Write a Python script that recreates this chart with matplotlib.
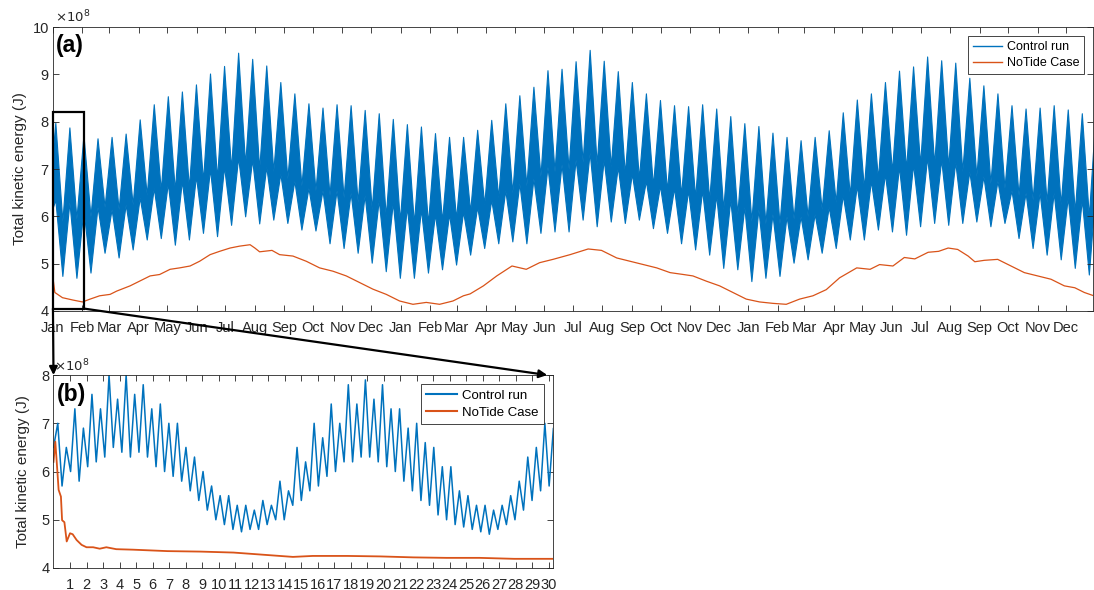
import numpy as np
import matplotlib
matplotlib.use('Agg')
import matplotlib.pyplot as plt
from matplotlib.patches import Rectangle, ConnectionPatch
from matplotlib.lines import Line2D

plt.rcParams['font.family'] = ['Liberation Sans', 'DejaVu Sans']

# ---- data (kinetic energy in units of 1e8 J) ----
month_names = ['Jan', 'Feb', 'Mar', 'Apr', 'May', 'Jun',
               'Jul', 'Aug', 'Sep', 'Oct', 'Nov', 'Dec']
month_start = [0, 31, 59, 90, 120, 151, 181, 212, 243, 273, 304, 334]
n_years = 3

# panel (a) control run: one entry per spring-neap cycle
spring_t0 = 2.5        # day of first spring tide
spring_period = 14.765 # days
spring_peak = [7.98, 7.88, 7.72, 7.65, 7.68, 7.75, 8.05, 8.37, 8.54, 8.64,
               8.79, 9.02, 9.18, 9.46, 9.33, 9.19, 8.84, 8.60, 8.39, 8.30,
               8.37, 8.35, 8.25, 8.18, 8.06, 7.95, 7.90, 7.76, 7.68, 7.68,
               7.83, 8.04, 8.39, 8.56, 8.74, 9.09, 9.12, 9.28, 9.52, 9.29,
               9.07, 8.84, 8.60, 8.46, 8.35, 8.33, 8.37, 8.28, 8.12, 7.97,
               7.91, 7.77, 7.68, 7.61, 7.68, 7.82, 8.20, 8.47, 8.60, 8.84,
               9.08, 9.17, 9.38, 9.30, 9.25, 8.93, 8.77, 8.60, 8.35, 8.28,
               8.30, 8.35, 8.26, 8.18]
spring_low = [6.35, 6.30, 6.15, 6.20, 6.15, 6.25, 6.40, 6.60, 6.70, 6.75,
              6.85, 7.00, 7.05, 7.25, 7.20, 7.05, 6.90, 6.75, 6.60, 6.55,
              6.55, 6.50, 6.45, 6.35, 6.30, 6.20, 6.15, 6.05, 6.05, 6.10,
              6.20, 6.35, 6.55, 6.70, 6.80, 7.05, 7.10, 7.20, 7.35, 7.20,
              7.05, 6.90, 6.75, 6.65, 6.60, 6.55, 6.55, 6.45, 6.35, 6.20,
              6.15, 6.05, 6.00, 6.00, 6.05, 6.20, 6.45, 6.65, 6.75, 6.90,
              7.05, 7.10, 7.25, 7.20, 7.15, 6.95, 6.85, 6.75, 6.55, 6.50,
              6.50, 6.50, 6.40, 6.35]
neap_high = [5.90, 5.95, 6.00, 6.20, 6.15, 6.25, 6.45, 6.55, 6.55, 6.60,
             6.75, 6.80, 7.00, 7.10, 7.00, 6.95, 6.80, 6.65, 6.55, 6.45,
             6.40, 6.30, 6.15, 6.00, 5.90, 5.85, 5.85, 5.90, 5.95, 6.10,
             6.25, 6.40, 6.50, 6.65, 6.85, 6.95, 7.00, 7.15, 7.10, 7.05,
             6.90, 6.80, 6.65, 6.55, 6.45, 6.40, 6.35, 6.15, 6.05, 5.90,
             5.85, 5.85, 5.95, 6.00, 6.15, 6.30, 6.45, 6.60, 6.80, 6.95,
             7.00, 7.10, 7.10, 7.05, 6.95, 6.85, 6.70, 6.60, 6.45, 6.35,
             6.30, 6.25, 6.10, 6.00]
neap_low = [4.74, 4.70, 4.81, 5.23, 5.13, 5.30, 5.51, 5.54, 5.40, 5.51,
            5.65, 5.58, 5.82, 6.00, 5.85, 5.93, 5.86, 5.72, 5.70, 5.43,
            5.33, 5.23, 5.02, 4.84, 4.70, 4.70, 4.81, 4.88, 4.98, 5.19,
            5.33, 5.43, 5.47, 5.43, 5.65, 5.68, 5.68, 5.93, 5.79, 5.89,
            5.86, 5.93, 5.75, 5.65, 5.43, 5.30, 5.19, 4.91, 4.88, 4.63,
            4.70, 4.74, 5.02, 5.09, 5.23, 5.33, 5.51, 5.51, 5.72, 5.68,
            5.61, 5.79, 5.86, 5.82, 5.86, 5.89, 5.79, 5.86, 5.54, 5.33,
            5.19, 5.09, 4.91, 4.77]
# neap before the first spring and spring after the last neap (partly off-axis)
pre_neap = (5.90, 6.30)   # (low, high)
post_spring = (6.70, 8.30)  # (low, high)

# panel (a) NoTide case
nt_day = [0, 2, 10, 21, 31, 39, 49, 60, 67, 81, 91, 102, 112, 123, 133, 144,
          154, 165, 175, 186, 196, 207, 212, 217, 230, 238, 252, 266, 280,
          294, 308, 322, 336, 350, 364, 378, 392, 406, 420, 431, 438, 452,
          466, 482, 497, 511, 525, 543, 562, 576, 592, 606, 620, 634, 648,
          662, 672, 686, 700, 714, 728, 742, 756, 770, 784, 798, 812, 826,
          844, 858, 868, 882, 894, 905, 919, 930, 940, 950, 961, 968, 978,
          992, 1006, 1020, 1034, 1048, 1062, 1073, 1083, 1093]
nt_val = [4.70, 4.39, 4.28, 4.23, 4.19, 4.25, 4.32, 4.35, 4.42, 4.53, 4.63,
          4.74, 4.77, 4.88, 4.91, 4.95, 5.05, 5.19, 5.26, 5.33, 5.37, 5.40,
          5.33, 5.25, 5.28, 5.19, 5.16, 5.05, 4.91, 4.84, 4.74, 4.60, 4.46,
          4.35, 4.21, 4.14, 4.18, 4.14, 4.21, 4.32, 4.36, 4.53, 4.74, 4.95,
          4.88, 5.02, 5.09, 5.19, 5.31, 5.28, 5.12, 5.05, 4.98, 4.91, 4.81,
          4.77, 4.74, 4.63, 4.53, 4.39, 4.25, 4.19, 4.16, 4.14, 4.25, 4.32,
          4.45, 4.70, 4.91, 4.88, 4.98, 4.95, 5.13, 5.10, 5.24, 5.26, 5.33,
          5.30, 5.16, 5.04, 5.07, 5.09, 4.95, 4.81, 4.74, 4.67, 4.53, 4.49,
          4.39, 4.32]

# panel (b): first month, semi-diurnal highs and lows
m2_half = 0.25875      # half of the M2 period in days
b_t0 = 0.0
ctrl_b = [6.5, 7.0, 5.7, 6.5, 6.0, 7.3, 5.8, 6.9, 6.1, 7.6, 6.2, 7.3, 6.3, 8.0,
          6.5, 7.5, 6.4, 8.0, 6.3, 7.6, 6.4, 7.8, 6.3, 7.3, 6.1, 7.4, 6.0, 7.0,
          5.9, 7.0, 5.8, 6.5, 5.6, 6.3, 5.4, 6.0, 5.2, 5.7, 5.0, 5.5, 4.9, 5.5,
          4.8, 5.3, 4.75, 5.3, 4.8, 5.2, 4.8, 5.4, 4.9, 5.3, 5.0, 5.8, 5.0, 5.6,
          5.3, 6.5, 5.4, 6.2, 5.6, 7.0, 5.7, 6.7, 5.9, 7.4, 6.0, 7.0, 6.2, 7.8,
          6.2, 7.4, 6.3, 7.9, 6.3, 7.5, 6.2, 7.8, 6.1, 7.3, 6.0, 7.3, 5.8, 6.9,
          5.6, 7.0, 5.4, 6.6, 5.3, 6.5, 5.1, 6.1, 5.0, 6.1, 4.9, 5.6, 4.85, 5.5,
          4.8, 5.3, 4.75, 5.3, 4.7, 5.2, 4.8, 5.3, 4.9, 5.5, 5.0, 5.8, 5.2, 6.3,
          5.4, 6.5, 5.6, 7.0, 5.7, 6.9, 6.0, 7.0]
nt_b_day = [0, 0.11, 0.23, 0.31, 0.45, 0.52, 0.66, 0.80, 1.0, 1.16, 1.4, 1.7,
            2.0, 2.4, 2.8, 3.2, 3.8, 4.8, 6.9, 8.9, 10.9, 12.9, 14.5, 15.7,
            17.8, 19.8, 21.8, 23.8, 25.8, 27.9, 30.3]
nt_b_val = [6.20, 6.62, 6.03, 5.62, 5.48, 4.99, 4.95, 4.55, 4.72, 4.70, 4.58,
            4.48, 4.43, 4.43, 4.40, 4.43, 4.39, 4.38, 4.35, 4.34, 4.32, 4.27,
            4.23, 4.25, 4.25, 4.24, 4.22, 4.21, 4.21, 4.19, 4.19]

# zoom window marked on panel (a)
zoom_days = 32.5
zoom_lo, zoom_hi = 4.05, 8.2

blue = '#0072BD'
orange = '#D95319'
axcol = '#262626'

# ---- build panel (a) control envelopes ----
spring_t = spring_t0 + spring_period * np.arange(len(spring_peak))
half = spring_period / 2
ta = np.empty(2 * len(spring_t))
ta[0::2] = spring_t
ta[1::2] = spring_t + half
up = np.empty_like(ta)
up[0::2] = spring_peak
up[1::2] = neap_high
lo = np.empty_like(ta)
lo[0::2] = spring_low
lo[1::2] = neap_low
ta = np.concatenate([[spring_t[0] - half], ta, [spring_t[-1] + 2 * half]])
up = np.concatenate([[pre_neap[1]], up, [post_spring[1]]])
lo = np.concatenate([[pre_neap[0]], lo, [post_spring[0]]])

fig = plt.figure(figsize=(10.94, 5.90), dpi=100)
ax_a = fig.add_axes([0.0484, 0.473, 0.9506, 0.481])
ax_b = fig.add_axes([0.0489, 0.0373, 0.4566, 0.327])


def style(ax):
    for s in ax.spines.values():
        s.set_color(axcol)
        s.set_linewidth(0.6)
    ax.tick_params(direction='in', top=True, right=True, length=4,
                   width=0.6, colors=axcol, labelsize=10.5, pad=3)
    ax.tick_params(axis='x', pad=7)


# panel (a)
ax_a.fill_between(ta, lo, up, color=blue, lw=0.8, edgecolor=blue)
ax_a.plot(nt_day, nt_val, color=orange, lw=0.9)
ax_a.set_xlim(0, 1092)
ax_a.set_ylim(4, 10)
ticks = [y * 365 + m for y in range(n_years) for m in month_start]
ax_a.set_xticks(ticks)
ax_a.set_xticklabels(month_names * n_years)
ax_a.set_yticks(range(4, 11))
style(ax_a)
ax_a.set_ylabel('Total kinetic energy (J)', fontsize=11, color=axcol, labelpad=4)
ax_a.text(0.002, 1.005, r'$\times10^{8}$', transform=ax_a.transAxes,
          fontsize=9.5, color=axcol, va='bottom', ha='left')
ax_a.text(0.003, 0.975, '(a)', transform=ax_a.transAxes, fontsize=16.5,
          fontweight='bold', va='top', ha='left')
ax_a.add_patch(Rectangle((0, zoom_lo), zoom_days, zoom_hi - zoom_lo,
                         fill=False, ec='k', lw=1.6, zorder=5, clip_on=False))
handles = [Line2D([], [], color=blue, lw=1), Line2D([], [], color=orange, lw=1)]
leg = ax_a.legend(handles, ['Control run', 'NoTide Case'], loc='upper right',
                  fontsize=9, fancybox=False, framealpha=1, handlelength=2.3,
                  borderpad=0.4, labelspacing=0.35, handletextpad=0.4,
                  borderaxespad=0.7)
leg.get_frame().set_edgecolor(axcol)
leg.get_frame().set_linewidth(0.6)

# panel (b)
tb = b_t0 + m2_half * np.arange(len(ctrl_b))
ax_b.plot(tb, ctrl_b, color=blue, lw=1.1)
ax_b.plot(nt_b_day, nt_b_val, color=orange, lw=1.3)
ax_b.set_xlim(0, 30.25)
ax_b.set_ylim(4, 8)
ax_b.set_xticks(range(1, 31))
ax_b.set_yticks(range(4, 9))
style(ax_b)
ax_b.set_ylabel('Total kinetic energy (J)', fontsize=11, color=axcol, labelpad=8)
ax_b.text(0.002, 1.005, r'$\times10^{8}$', transform=ax_b.transAxes,
          fontsize=9.5, color=axcol, va='bottom', ha='left')
ax_b.text(0.006, 0.96, '(b)', transform=ax_b.transAxes, fontsize=16.5,
          fontweight='bold', va='top', ha='left')
handles_b = [Line2D([], [], color=blue, lw=1.5), Line2D([], [], color=orange, lw=1.5)]
leg_b = ax_b.legend(handles_b, ['Control run', 'NoTide Case'], loc='upper right',
                    fontsize=9.5, fancybox=False, framealpha=1, handlelength=2.3,
                    borderpad=0.4, labelspacing=0.35, handletextpad=0.4,
                    borderaxespad=0.7)
leg_b.get_frame().set_edgecolor(axcol)
leg_b.get_frame().set_linewidth(0.6)

# arrows linking the zoom window to panel (b)
for xa, xb in [(0, 0), (zoom_days, 29.9)]:
    con = ConnectionPatch(xyA=(xa, zoom_lo), coordsA=ax_a.transData,
                          xyB=(xb, 8.0), coordsB=ax_b.transData,
                          arrowstyle='-|>', color='k', lw=1.6,
                          mutation_scale=12, zorder=10)
    fig.add_artist(con)

fig.savefig('out.png', dpi=100)
